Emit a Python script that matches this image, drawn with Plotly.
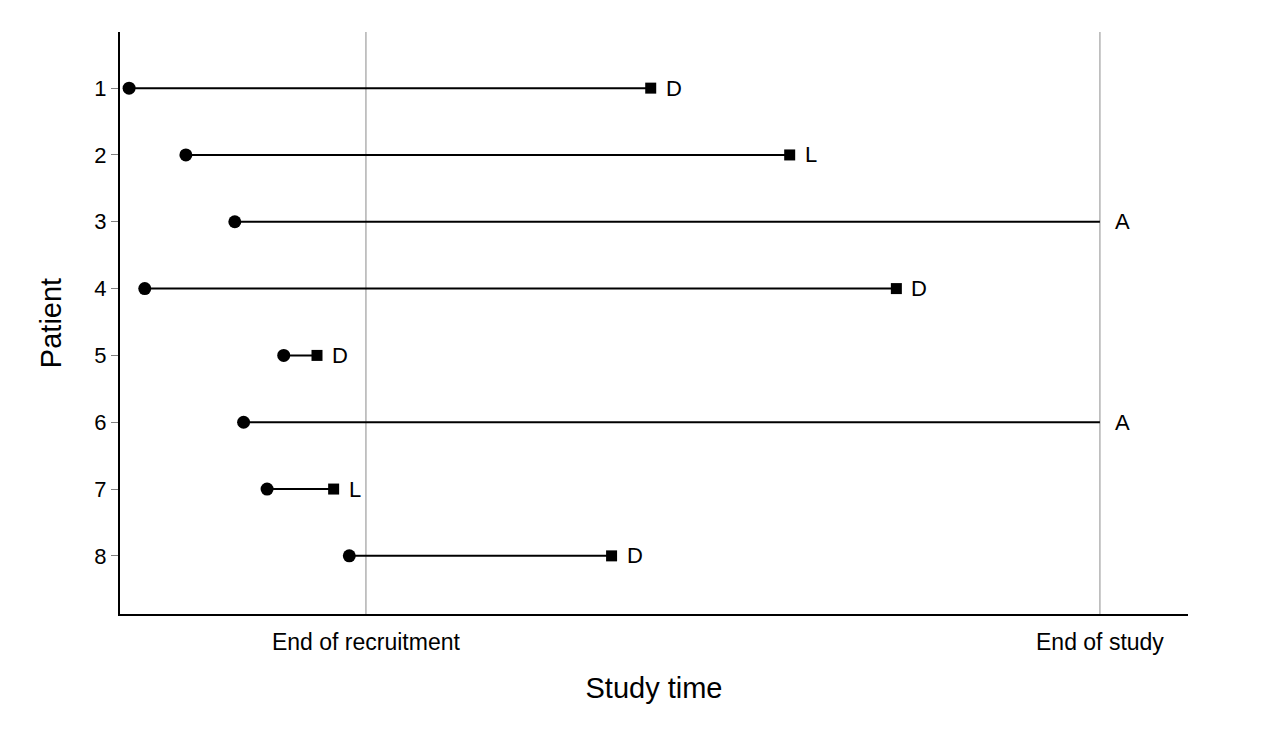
import plotly.graph_objects as go

patients = [1, 2, 3, 4, 5, 6, 7, 8]
entry = [0.08, 0.66, 1.16, 0.24, 1.66, 1.25, 1.49, 2.33]
exit_time = [5.41, 6.83, 10.0, 7.92, 2.00, 10.0, 2.17, 5.01]
outcome = ["D", "L", "A", "D", "D", "A", "L", "D"]
end_recruitment = 2.5
end_study = 10.0
tick_labels = ["End of recruitment", "End of study"]

FONT = "Liberation Sans, Arial, sans-serif"
fig = go.Figure()

# reference lines
for xv in [end_recruitment, end_study]:
    fig.add_shape(type="line", xref="x", yref="paper", x0=xv, x1=xv, y0=0, y1=1,
                  line=dict(color="#a6a6a6", width=1.3), layer="below")

for p, s, e, o in zip(patients, entry, exit_time, outcome):
    fig.add_trace(go.Scatter(x=[s, e], y=[p, p], mode="lines",
                             line=dict(color="black", width=2), showlegend=False,
                             hoverinfo="skip"))
    fig.add_trace(go.Scatter(x=[s], y=[p], mode="markers",
                             marker=dict(symbol="circle", size=13, color="black"),
                             showlegend=False))
    if o != "A":
        fig.add_trace(go.Scatter(x=[e], y=[p], mode="markers",
                                 marker=dict(symbol="square", size=11, color="black"),
                                 showlegend=False))
    fig.add_annotation(x=e, y=p, text=o, showarrow=False, xanchor="left",
                       xshift=13, font=dict(family=FONT, size=22, color="black"))

fig.update_layout(
    width=1268, height=734,
    margin=dict(l=112, r=88, t=24, b=128),
    plot_bgcolor="white", paper_bgcolor="white",
    font=dict(family=FONT, size=21, color="black"),
)
fig.update_xaxes(range=[-0.013, 10.9], tickvals=[end_recruitment, end_study],
                 ticktext=tick_labels, showgrid=False, zeroline=False,
                 showline=True, linecolor="black", linewidth=2, ticks="",
                 tickfont=dict(family=FONT, size=23, color="black"),
                 ticklabelstandoff=6,
                 title=dict(text="Study time", font=dict(family=FONT, size=29), standoff=24))
fig.update_yaxes(range=[8.87, 0.16], tickvals=patients, showgrid=False,
                 zeroline=False, showline=True, linecolor="black", linewidth=2,
                 ticks="outside", ticklen=7, tickcolor="#808080", tickwidth=1.3,
                 tickfont=dict(family=FONT, size=22, color="black"),
                 title=dict(text="Patient", font=dict(family=FONT, size=29), standoff=24))

fig.write_html("out.html")
